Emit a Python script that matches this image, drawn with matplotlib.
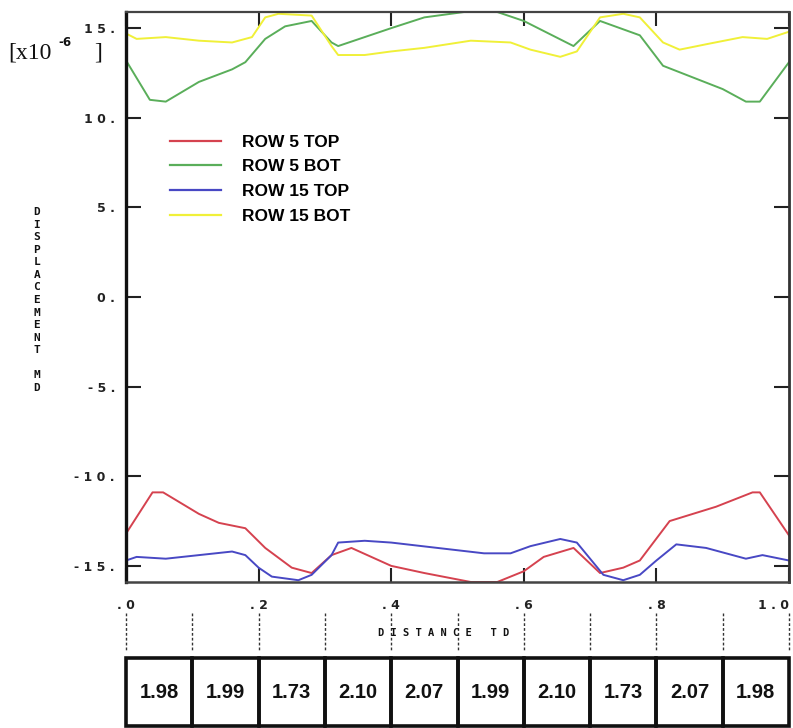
import numpy as np
import matplotlib
matplotlib.use("Agg")
import matplotlib.pyplot as plt
from matplotlib.transforms import blended_transform_factory
from matplotlib.patches import Rectangle

# ---- data (displacement, units of 1e-6) ----
x_row5_top = [0.0, 0.04, 0.056, 0.11, 0.14, 0.18, 0.21, 0.25, 0.28, 0.31, 0.34, 0.40, 0.45,
              0.52, 0.56, 0.60, 0.63, 0.675, 0.715, 0.75, 0.775, 0.82, 0.89, 0.945, 0.956, 1.0]
y_row5_top = [-13.2, -10.9, -10.9, -12.1, -12.6, -12.9, -14.0, -15.1, -15.4, -14.4, -14.0, -15.0, -15.4,
              -15.9, -15.9, -15.3, -14.5, -14.0, -15.4, -15.1, -14.7, -12.5, -11.7, -10.9, -10.9, -13.3]

x_row5_bot = [0.0, 0.036, 0.06, 0.11, 0.16, 0.18, 0.21, 0.24, 0.28, 0.31, 0.32, 0.40, 0.45,
              0.51, 0.56, 0.60, 0.675, 0.715, 0.775, 0.81, 0.90, 0.935, 0.956, 1.0]
y_row5_bot = [13.2, 11.0, 10.9, 12.0, 12.7, 13.1, 14.4, 15.1, 15.4, 14.2, 14.0, 15.0, 15.6,
              15.9, 15.9, 15.4, 14.0, 15.4, 14.6, 12.9, 11.6, 10.9, 10.9, 13.1]

x_row15_top = [0.0, 0.016, 0.06, 0.11, 0.16, 0.18, 0.20, 0.22, 0.26, 0.28, 0.31, 0.32, 0.36, 0.40,
               0.47, 0.54, 0.58, 0.61, 0.655, 0.68, 0.72, 0.75, 0.775, 0.80, 0.83, 0.875, 0.935, 0.96, 1.0]
y_row15_top = [-14.7, -14.5, -14.6, -14.4, -14.2, -14.4, -15.1, -15.6, -15.8, -15.5, -14.4, -13.7, -13.6, -13.7,
               -14.0, -14.3, -14.3, -13.9, -13.5, -13.7, -15.5, -15.8, -15.5, -14.7, -13.8, -14.0, -14.6, -14.4, -14.7]

x_row15_bot = [0.0, 0.016, 0.06, 0.11, 0.16, 0.19, 0.21, 0.23, 0.28, 0.31, 0.32, 0.36, 0.40, 0.45,
               0.52, 0.58, 0.61, 0.655, 0.68, 0.715, 0.75, 0.775, 0.81, 0.835, 0.875, 0.93, 0.967, 1.0]
y_row15_bot = [14.7, 14.4, 14.5, 14.3, 14.2, 14.5, 15.6, 15.8, 15.7, 14.0, 13.5, 13.5, 13.7, 13.9,
               14.3, 14.2, 13.8, 13.4, 13.7, 15.6, 15.8, 15.6, 14.2, 13.8, 14.1, 14.5, 14.4, 14.8]

series_labels = ["ROW 5 TOP", "ROW 5 BOT", "ROW 15 TOP", "ROW 15 BOT"]
series_colors = ["#d5424f", "#5aae5a", "#4848c4", "#f0f038"]

y_ticks = [15, 10, 5, 0, -5, -10, -15]
y_tick_labels = ["15.", "10.", "5.", "0.", "-5.", "-10.", "-15."]
x_ticks = [0.0, 0.2, 0.4, 0.6, 0.8, 1.0]
x_tick_labels = [".0", ".2", ".4", ".6", ".8", "1.0"]

cell_values = ["1.98", "1.99", "1.73", "2.10", "2.07", "1.99", "2.10", "1.73", "2.07", "1.98"]

# ---- figure ----
W, H = 793, 728
fig = plt.figure(figsize=(W / 100, H / 100), dpi=100)
fig.patch.set_facecolor("white")

def fx(px):
    return px / W

def fy(py):
    return 1 - py / H

def spaced(s):
    return " ".join(s)

L, R, T, B = 126, 789, 12, 582
ax = fig.add_axes([fx(L), fy(B), fx(R) - fx(L), fy(T) - fy(B)])

xs = [x_row5_top, x_row5_bot, x_row15_top, x_row15_bot]
ys = [y_row5_top, y_row5_bot, y_row15_top, y_row15_bot]
for x, y, lab, col in zip(xs, ys, series_labels, series_colors):
    ax.plot(x, y, color=col, lw=1.4, label=lab, solid_joinstyle="round")

ax.set_xlim(0, 1)
ax.set_ylim(-15.9, 15.9)

mono = dict(family="DejaVu Sans Mono", weight="bold")

ax.set_yticks(y_ticks, labels=[spaced(s) for s in y_tick_labels])
ax.set_xticks(x_ticks, labels=[spaced(s) for s in x_tick_labels])
for t in ax.get_yticklabels() + ax.get_xticklabels():
    t.set_fontfamily("DejaVu Sans")
    t.set_fontweight("bold")
    t.set_fontsize(9)
    t.set_color("#111111")
# last x label sits at the figure edge
ax.get_xticklabels()[-1].set_horizontalalignment("right")
ax.get_xticklabels()[-1].set_x(1.0)

ax.tick_params(axis="y", which="both", direction="in", length=11, width=1.5,
               left=True, right=True, pad=8, colors="#222222")
ax.tick_params(axis="x", which="both", direction="in", length=10, width=1.5,
               top=True, bottom=True, pad=12, colors="#222222")

for side, lw, c in [("left", 2.4, "#111111"), ("right", 2.0, "#333333"),
                    ("top", 1.6, "#444444"), ("bottom", 1.8, "#444444")]:
    ax.spines[side].set_linewidth(lw)
    ax.spines[side].set_color(c)

leg = ax.legend(loc="upper left", bbox_to_anchor=(0.066, 0.785), frameon=False,
                borderaxespad=0, borderpad=0, handlelength=2.95, handletextpad=1.2,
                labelspacing=0.55,
                prop=dict(family="Liberation Sans", weight="bold", size=12.5))
for h in leg.get_lines():
    h.set_linewidth(1.6)

# scale factor label
fig.text(fx(8), fy(53), "[x10", fontsize=17, family="Liberation Serif",
         va="center", ha="left", color="#111111")
fig.text(fx(58), fy(43), "-6", fontsize=8.5, family="DejaVu Sans", weight="bold",
         va="center", ha="left", color="#111111")
fig.text(fx(94), fy(53), "]", fontsize=17, family="Liberation Serif",
         va="center", ha="left", color="#111111")

# stacked vertical axis title
fig.text(fx(37), fy(300), "\n".join("DISPLACEMENT MD"),
         fontsize=8, linespacing=1.32, va="center", ha="center", color="#111111", **mono)

# axis title for x
fig.text(fx(444), fy(633), " ".join("DISTANCE") + "   " + " ".join("TD"),
         fontsize=7.5, va="center", ha="center", color="#111111", **mono)

# dashed guide lines every 0.1 between tick labels and the table
guide_x = np.linspace(0, 1, 11)
tr = blended_transform_factory(ax.transData, fig.transFigure)
for gx in guide_x:
    fig.add_artist(plt.Line2D([gx, gx], [fy(613), fy(650)], transform=tr,
                              color="#333333", lw=1.0, ls=(0, (2, 1.5))))

# table of values below
tab = fig.add_axes([fx(L), fy(726), fx(R) - fx(L), fy(658) - fy(726)])
tab.set_xlim(0, 1)
tab.set_ylim(0, 1)
tab.axis("off")
n = len(cell_values)
for i, v in enumerate(cell_values):
    x0 = i / n
    tab.add_patch(Rectangle((x0, 0), 1 / n, 1, fill=False, lw=2.6, ec="#111111",
                            clip_on=False))
    tab.text(x0 + 0.5 / n, 0.5, v, ha="center", va="center", fontsize=14.5,
             family="Liberation Sans", weight="bold", color="#111111")

fig.savefig("out.png", dpi=100, facecolor="white")
